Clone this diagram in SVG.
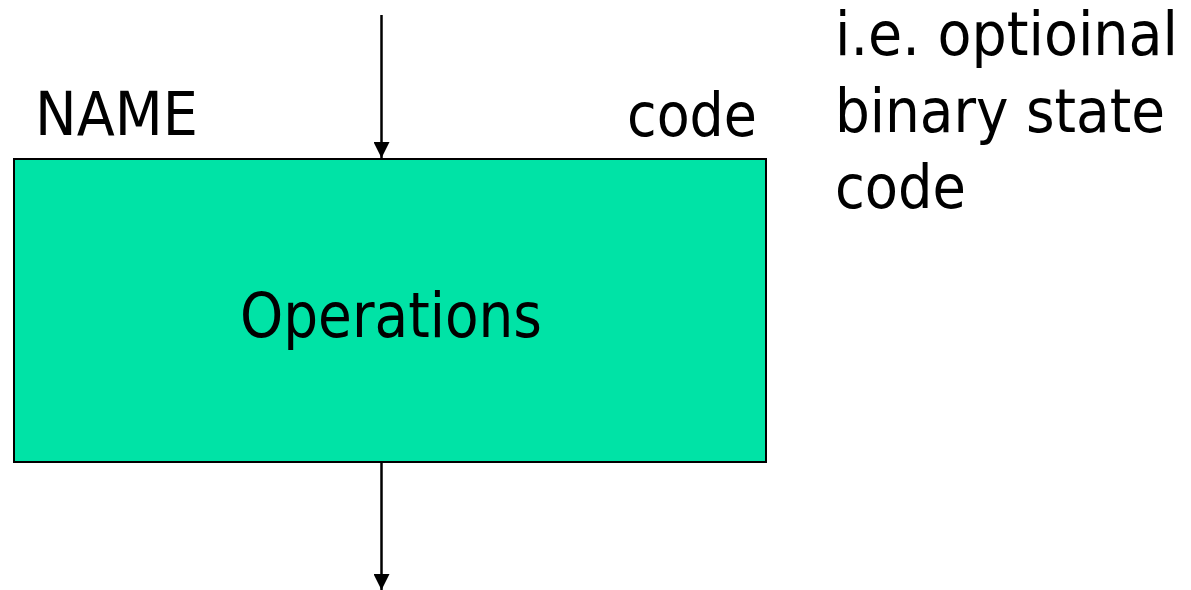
<svg xmlns="http://www.w3.org/2000/svg" width="1191" height="590" viewBox="0 0 1191 590">
  <style>
    text { font-family: "DejaVu Sans", "Liberation Sans", sans-serif; fill: #000; }
    .lbl { font-size: 60px; }
    .big { font-size: 63px; }
    .box { fill: #00e3a6; stroke: #000; stroke-width: 2; }
    .wire { stroke: #000; stroke-width: 2.5; fill: none; }
  </style>
  <defs>
    <marker id="arrow" viewBox="0 0 16 16" refX="16" refY="8" markerWidth="16" markerHeight="16" markerUnits="userSpaceOnUse" orient="auto">
      <path d="M0,0 L16,8 L0,16 Z" fill="#000"/>
    </marker>
  </defs>

  <g id="state-box">
    <rect class="box" x="14" y="159" width="752" height="303"/>
    <text class="big" x="240" y="337" textLength="302" lengthAdjust="spacingAndGlyphs">Operations</text>
  </g>

  <g id="name-label">
    <text class="lbl" x="35" y="135" textLength="163" lengthAdjust="spacingAndGlyphs">NAME</text>
  </g>

  <g id="code-label">
    <text class="lbl" x="627" y="136" textLength="130" lengthAdjust="spacingAndGlyphs">code</text>
  </g>

  <g id="note">
    <text class="lbl" x="835" y="55" textLength="343" lengthAdjust="spacingAndGlyphs">i.e. optioinal</text>
    <text class="lbl" x="835" y="132" textLength="330" lengthAdjust="spacingAndGlyphs">binary state</text>
    <text class="lbl" x="835" y="208" textLength="131" lengthAdjust="spacingAndGlyphs">code</text>
  </g>

  <g id="connectors">
    <line class="wire" x1="381.5" y1="15" x2="381.5" y2="158" marker-end="url(#arrow)"/>
    <line class="wire" x1="381.5" y1="463" x2="381.5" y2="590" marker-end="url(#arrow)"/>
  </g>
</svg>
